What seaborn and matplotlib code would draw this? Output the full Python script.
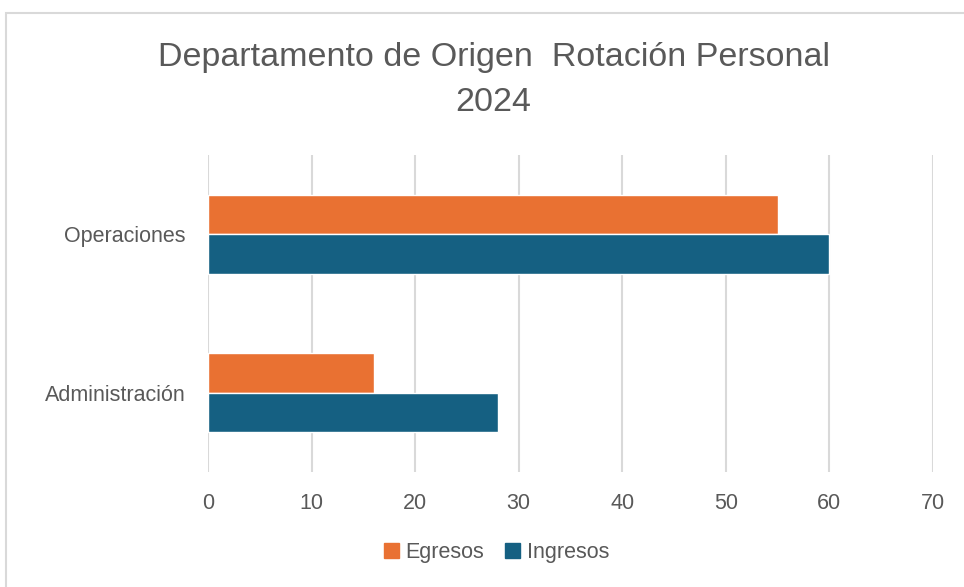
import pandas as pd
import matplotlib.pyplot as plt
import seaborn as sns
from matplotlib.patches import Rectangle

departamentos = ["Operaciones", "Administración"]
egresos = [55, 16]
ingresos = [60, 28]
series = ["Egresos", "Ingresos"]
colores = ["#E97132", "#156082"]

df = pd.DataFrame({
    "Departamento": departamentos * 2,
    "Serie": ["Egresos"] * 2 + ["Ingresos"] * 2,
    "Valor": egresos + ingresos,
})

sns.set_theme(style="white")
plt.rcParams['font.family'] = ['Liberation Sans', 'DejaVu Sans']
gris = "#595959"

fig = plt.figure(figsize=(9.64, 5.87), dpi=100)
ax = fig.add_axes([0.2158, 0.1959, 0.752, 0.540])

sns.barplot(data=df, y="Departamento", x="Valor", hue="Serie", orient="h",
            palette=colores, hue_order=series, width=0.5, saturation=1,
            ax=ax, legend=False)

ax.set_xlim(0, 70)
ax.set_ylim(1.5, -0.5)
ax.set_xticks(range(0, 71, 10))
ax.xaxis.grid(True, color="#D9D9D9", linewidth=1.5)
ax.set_axisbelow(True)
for s in ax.spines.values():
    s.set_visible(False)
ax.set_xlabel("")
ax.set_ylabel("")
ax.tick_params(axis="x", colors=gris, labelsize=15.5, pad=15, length=0)
ax.tick_params(axis="y", colors=gris, labelsize=15.5, pad=16, length=0)

fig.text(0.512, 0.902, "Departamento de Origen  Rotación Personal", ha="center",
         va="center", fontsize=24.5, color=gris)
fig.text(0.512, 0.826, "2024", ha="center", va="center", fontsize=24.5, color=gris)

handles = [Rectangle((0, 0), 1, 1, color=c) for c in colores]
fig.legend(handles, series, loc="center", bbox_to_anchor=(0.515, 0.058), ncol=2,
           frameon=False, fontsize=15.5, labelcolor=gris, handlelength=0.7,
           handleheight=0.7, handletextpad=0.3, columnspacing=1.0)

fig.patches.append(Rectangle((6 / 964, -0.1), 1.2, 1 - 13 / 587 + 0.1,
                             transform=fig.transFigure, fill=False,
                             edgecolor="#D9D9D9", linewidth=1.5))

fig.savefig("out.png", dpi=100)
